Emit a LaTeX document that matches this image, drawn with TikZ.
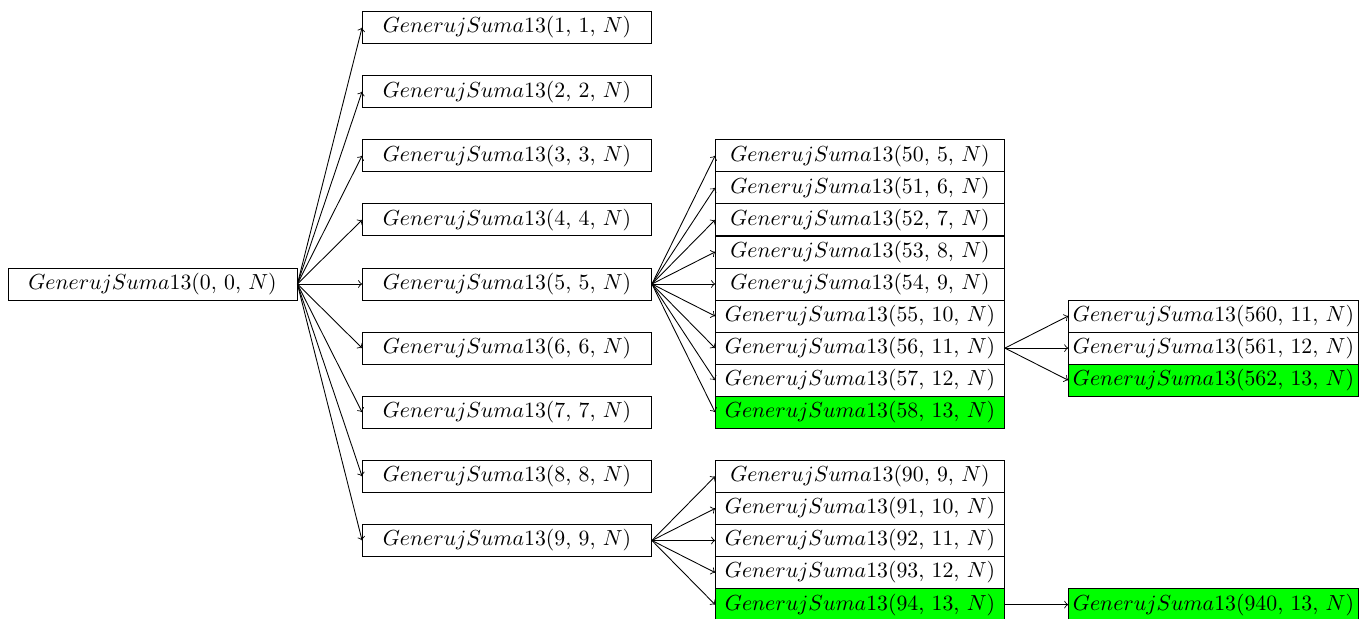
\documentclass[tikz,border=0pt]{standalone}
\usepackage{amsmath,amssymb}
\usepackage{tikz}
\usepackage{xcolor}
\usetikzlibrary{arrows,positioning}

\tikzset{
    callbox/.style={draw, fill=white, minimum width=4.66cm, minimum height=0.516cm, inner ysep=1pt, inner xsep=2pt},
    hitbox/.style={callbox, fill=green},
    callarrow/.style={->}
}

\begin{document}
\begin{tikzpicture}[x=0.016129cm, y=-0.016129cm]
    \useasboundingbox (0,0) rectangle (1366,619);

    % Root call
    \node[callbox] (g0) at (152.5,284) {$GenerujSuma13(0$, $0$, $N)$};

    % First level
    \node[callbox] (g1) at (507,27.5) {$GenerujSuma13(1$, $1$, $N)$};
    \node[callbox] (g2) at (507,91.6) {$GenerujSuma13(2$, $2$, $N)$};
    \node[callbox] (g3) at (507,155.75) {$GenerujSuma13(3$, $3$, $N)$};
    \node[callbox] (g4) at (507,219.9) {$GenerujSuma13(4$, $4$, $N)$};
    \node[callbox] (g5) at (507,284) {$GenerujSuma13(5$, $5$, $N)$};
    \node[callbox] (g6) at (507,348.1) {$GenerujSuma13(6$, $6$, $N)$};
    \node[callbox] (g7) at (507,412.25) {$GenerujSuma13(7$, $7$, $N)$};
    \node[callbox] (g8) at (507,476.4) {$GenerujSuma13(8$, $8$, $N)$};
    \node[callbox] (g9) at (507,540.5) {$GenerujSuma13(9$, $9$, $N)$};

    % Second level under (5, 5)
    \node[callbox] (g50) at (860,155.75) {$GenerujSuma13(50$, $5$, $N)$};
    \node[callbox] (g51) at (860,187.8) {$GenerujSuma13(51$, $6$, $N)$};
    \node[callbox] (g52) at (860,219.9) {$GenerujSuma13(52$, $7$, $N)$};
    \node[callbox] (g53) at (860,251.95) {$GenerujSuma13(53$, $8$, $N)$};
    \node[callbox] (g54) at (860,284) {$GenerujSuma13(54$, $9$, $N)$};
    \node[callbox] (g55) at (860,316.05) {$GenerujSuma13(55$, $10$, $N)$};
    \node[callbox] (g56) at (860,348.1) {$GenerujSuma13(56$, $11$, $N)$};
    \node[callbox] (g57) at (860,380.2) {$GenerujSuma13(57$, $12$, $N)$};
    \node[hitbox] (g58) at (860,412.25) {$GenerujSuma13(58$, $13$, $N)$};

    % Second level under (9, 9)
    \node[callbox] (g90) at (860,476.4) {$GenerujSuma13(90$, $9$, $N)$};
    \node[callbox] (g91) at (860,508.45) {$GenerujSuma13(91$, $10$, $N)$};
    \node[callbox] (g92) at (860,540.5) {$GenerujSuma13(92$, $11$, $N)$};
    \node[callbox] (g93) at (860,572.55) {$GenerujSuma13(93$, $12$, $N)$};
    \node[hitbox] (g94) at (860,604.6) {$GenerujSuma13(94$, $13$, $N)$};

    % Third level
    \node[callbox] (g560) at (1213.5,316.05) {$GenerujSuma13(560$, $11$, $N)$};
    \node[callbox] (g561) at (1213.5,348.1) {$GenerujSuma13(561$, $12$, $N)$};
    \node[hitbox] (g562) at (1213.5,380.2) {$GenerujSuma13(562$, $13$, $N)$};
    \node[hitbox] (g940) at (1213.5,604.6) {$GenerujSuma13(940$, $13$, $N)$};

    % Arrows from the root
    \draw[callarrow] (g0.east) -- (g1.west);
    \draw[callarrow] (g0.east) -- (g2.west);
    \draw[callarrow] (g0.east) -- (g3.west);
    \draw[callarrow] (g0.east) -- (g4.west);
    \draw[callarrow] (g0.east) -- (g5.west);
    \draw[callarrow] (g0.east) -- (g6.west);
    \draw[callarrow] (g0.east) -- (g7.west);
    \draw[callarrow] (g0.east) -- (g8.west);
    \draw[callarrow] (g0.east) -- (g9.west);

    % Arrows from (5, 5)
    \draw[callarrow] (g5.east) -- (g50.west);
    \draw[callarrow] (g5.east) -- (g51.west);
    \draw[callarrow] (g5.east) -- (g52.west);
    \draw[callarrow] (g5.east) -- (g53.west);
    \draw[callarrow] (g5.east) -- (g54.west);
    \draw[callarrow] (g5.east) -- (g55.west);
    \draw[callarrow] (g5.east) -- (g56.west);
    \draw[callarrow] (g5.east) -- (g57.west);
    \draw[callarrow] (g5.east) -- (g58.west);

    % Arrows from (9, 9)
    \draw[callarrow] (g9.east) -- (g90.west);
    \draw[callarrow] (g9.east) -- (g91.west);
    \draw[callarrow] (g9.east) -- (g92.west);
    \draw[callarrow] (g9.east) -- (g93.west);
    \draw[callarrow] (g9.east) -- (g94.west);

    % Arrows to the third level
    \draw[callarrow] (g56.east) -- (g560.west);
    \draw[callarrow] (g56.east) -- (g561.west);
    \draw[callarrow] (g56.east) -- (g562.west);
    \draw[callarrow] (g94.east) -- (g940.west);
\end{tikzpicture}
\end{document}
